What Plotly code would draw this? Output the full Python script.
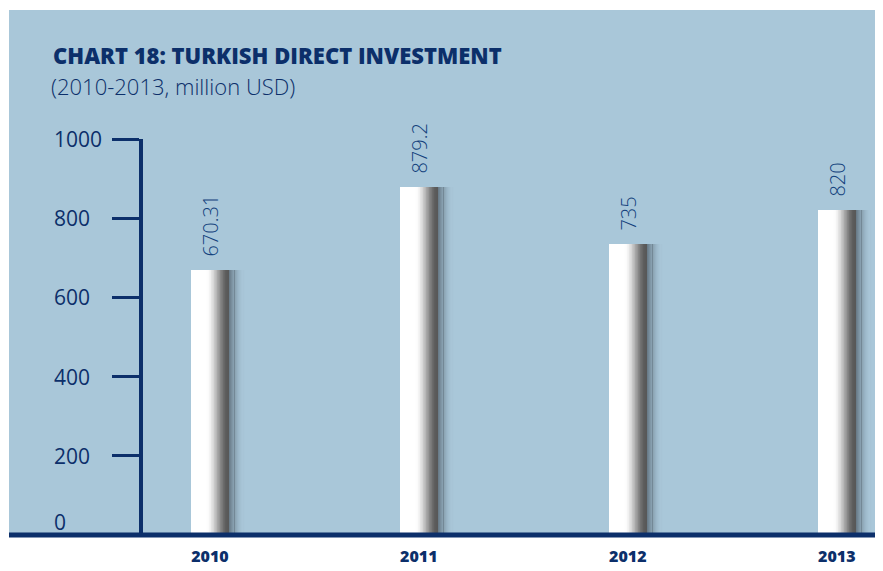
import plotly.graph_objects as go

# data
years = ["2010", "2011", "2012", "2013"]
investment = [670.31, 879.2, 735, 820]
value_labels = ["670.31", "879.2", "735", "820"]
tick_values = [0, 200, 400, 600, 800, 1000]

NAVY = "#0c2f6a"
LABEL_BLUE = "#123f7c"
PANEL = "#a9c7d9"

# the page body adds an 8px margin, so the figure is laid out in
# reference pixels minus that offset
OFF = 8
W, H = 883, 571
L, R, T, B = 135, 18, 131, 44
PW, PH = W - L - R, H - T - B


def px_x(px):
    return (px - OFF - L) / PW


def px_y(py):
    return (H - B - (py - OFF)) / PH


BAR_W = 0.182  # category units


def shade_level(p):
    # white on the left, darkening towards the right edge
    if p < 0.42:
        return 255
    t = (p - 0.42) / 0.58
    t = t * t * (3 - 2 * t)
    return int(255 - (255 - 88) * t)


fig = go.Figure()

# white bar with the values
fig.add_trace(go.Bar(
    x=years, y=investment, width=BAR_W, offset=-BAR_W / 2,
    marker=dict(color="white", line=dict(width=0)),
    text=["\u00a0\u00a0" + s for s in value_labels],
    textposition="outside", textangle=-90,
    outsidetextfont=dict(family="Open Sans", size=20, color=LABEL_BLUE, weight=300),
    constraintext="none", cliponaxis=False, showlegend=False, hoverinfo="x+y",
))

# shading on the right part of each bar
n_shade = 30
start = 0.42
step = (1 - start) / n_shade
for k in range(n_shade):
    p0 = start + k * step
    level = shade_level(p0 + step / 2)
    fig.add_trace(go.Bar(
        x=years, y=investment, width=step * BAR_W * 1.15,
        offset=-BAR_W / 2 + p0 * BAR_W,
        marker=dict(color=f"rgb({level},{level},{level})", line=dict(width=0)),
        showlegend=False, hoverinfo="skip",
    ))

# soft shadow to the right
n_shadow = 14
shadow_w = 0.075
for k in range(n_shadow):
    w = shadow_w / n_shadow
    t = (k + 0.5) / n_shadow
    alpha = 0.62 * (1 - t) ** 1.8
    fig.add_trace(go.Bar(
        x=years, y=investment, width=w * 1.1, offset=BAR_W / 2 + k * w,
        marker=dict(color=f"rgba(60,70,80,{alpha:.3f})", line=dict(width=0)),
        showlegend=False, hoverinfo="skip",
    ))

# tick labels, left aligned
for v in tick_values:
    fig.add_annotation(
        x=px_x(52), xref="paper", y=v, yref="y", xanchor="left", yanchor="middle",
        text=str(v), showarrow=False, yshift=13 if v == 0 else 0,
        font=dict(family="Open Sans", size=21, color=NAVY, weight=400),
    )

# title and subtitle
fig.add_annotation(
    x=px_x(51), xref="paper", y=px_y(38), yref="paper", xanchor="left", yanchor="top",
    text="CHART 18: TURKISH DIRECT INVESTMENT", showarrow=False,
    font=dict(family="Open Sans", size=22, color=NAVY, weight=800),
)
fig.add_annotation(
    x=px_x(49), xref="paper", y=px_y(69), yref="paper", xanchor="left", yanchor="top",
    text="(2010-2013, million USD)", showarrow=False,
    font=dict(family="Open Sans", size=22, color=NAVY, weight=300),
)

# blue panel and baseline
fig.add_shape(type="rect", xref="paper", yref="paper", layer="below",
              x0=px_x(9), x1=px_x(W + 20), y0=0, y1=px_y(10),
              fillcolor=PANEL, line=dict(width=0))
fig.add_shape(type="line", xref="paper", yref="paper", layer="above",
              x0=px_x(9), x1=px_x(W + 20), y0=0, y1=0,
              line=dict(color=NAVY, width=5))

fig.update_layout(
    width=W, height=H,
    margin=dict(l=L, r=R, t=T, b=B),
    paper_bgcolor="white",
    plot_bgcolor=PANEL,
    barmode="overlay",
    bargap=0,
    showlegend=False,
    xaxis=dict(
        type="category", range=[-0.32, 3.173],
        showgrid=False, zeroline=False, showline=False,
        ticks="outside", ticklen=7, tickcolor="rgba(0,0,0,0)",
        tickfont=dict(family="Open Sans", size=16, color=NAVY, weight=800),
    ),
    yaxis=dict(
        range=[0, 1000], showgrid=False, zeroline=False,
        showline=True, linecolor=NAVY, linewidth=3.5,
        ticks="outside", ticklen=27, tickwidth=3, tickcolor=NAVY,
        tickvals=tick_values[1:], showticklabels=False,
    ),
)

fig.write_html("out.html")
